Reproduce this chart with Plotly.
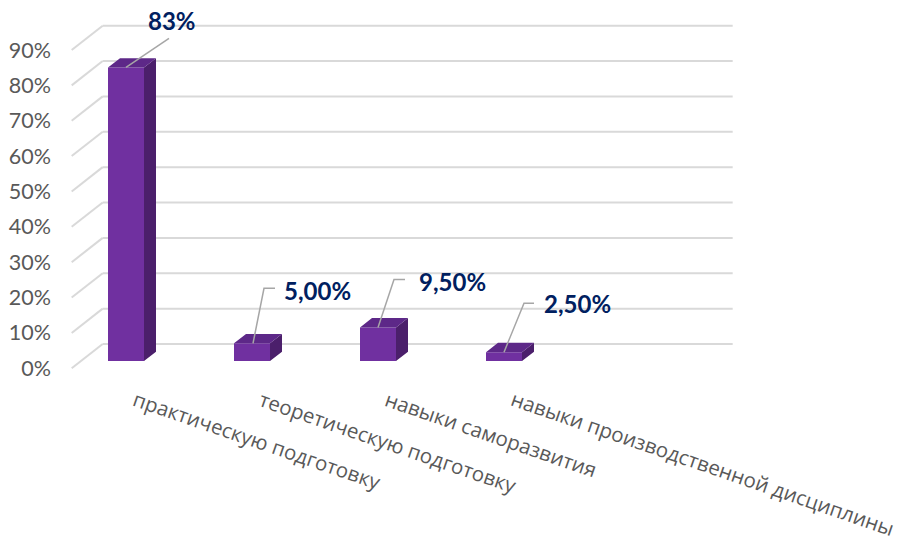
import plotly.graph_objects as go

# data
categories = ['практическую подготовку', 'теоретическую подготовку',
              'навыки саморазвития', 'навыки производственной дисциплины']
values = [83, 5, 9.5, 2.5]
value_labels = ['83%', '5,00%', '9,50%', '2,50%']
y_ticks = [0, 10, 20, 30, 40, 50, 60, 70, 80, 90]
y_tick_labels = ['%d%%' % t for t in y_ticks]
n_slots = 5  # the wall has room for five categories

W, H = 899, 547
plot_left, plot_right, plot_top, plot_bottom = 58, 760, 10, 385
l, t = plot_left, plot_top
r = W - plot_right
b = H - plot_bottom

px_x = 126.0     # pixels per category
px_y = 3.537     # pixels per percent
x0 = -(126 - plot_left) / px_x
x1 = x0 + (plot_right - plot_left) / px_x
y0 = -(plot_bottom - 368.3) / px_y
y1 = y0 + (plot_bottom - plot_top) / px_y

floor_dx, floor_dy = 31 / px_x, 24.3 / px_y     # front edge -> back wall
bar_base = 7.3 / px_y                            # bar front plane above front edge
bar_w = 36 / px_x
depth_dx, depth_dy = 12 / px_x, 9.3 / px_y       # bar depth
wall_left = -0.431

grid_color = '#d9d9d9'
front_color = '#7030a0'
side_color = '#4b1f6b'
top_color = '#5d2888'
label_color = '#002060'
text_gray = '#595959'

fig = go.Figure()

# back wall gridlines and the slanted floor lines
shapes = []
for v in y_ticks:
    shapes.append(dict(type='line', xref='x', yref='y', layer='below',
                       x0=wall_left, y0=v, x1=wall_left + floor_dx, y1=v + floor_dy,
                       line=dict(color=grid_color, width=2)))
    shapes.append(dict(type='line', xref='x', yref='y', layer='below',
                       x0=wall_left + floor_dx, y0=v + floor_dy,
                       x1=wall_left + floor_dx + n_slots, y1=v + floor_dy,
                       line=dict(color=grid_color, width=2)))

xs = list(range(len(values)))
fig.add_trace(go.Bar(x=xs, y=values, base=bar_base, width=bar_w,
                     marker=dict(color=front_color, line=dict(width=0)),
                     hoverinfo='skip'))

side_x, side_y, top_x, top_y = [], [], [], []
for x, v in zip(xs, values):
    top = bar_base + v
    xr = x + bar_w / 2
    xl = x - bar_w / 2
    side_x += [xr, xr + depth_dx, xr + depth_dx, xr, xr, None]
    side_y += [bar_base, bar_base + depth_dy, top + depth_dy, top, bar_base, None]
    top_x += [xl, xr, xr + depth_dx, xl + depth_dx, xl, None]
    top_y += [top, top, top + depth_dy, top + depth_dy, top, None]

fig.add_trace(go.Scatter(x=side_x, y=side_y, fill='toself', fillcolor=side_color,
                         mode='lines', line=dict(width=0), hoverinfo='skip'))
fig.add_trace(go.Scatter(x=top_x, y=top_y, fill='toself', fillcolor=top_color,
                         mode='lines', line=dict(width=0), hoverinfo='skip'))

# leader lines (pixel offsets from the top front edge of each bar)
leaders = [[(0, 0), (43, -29)],
           [(1, 0), (12, -55), (23, -55)],
           [(0, 0), (16, -48), (27, -48)],
           [(0, 0), (20, -49), (30, -49)]]
lx, ly = [], []
for x, v, pts in zip(xs, values, leaders):
    for dx, dy in pts:
        lx.append(x + dx / px_x)
        ly.append(bar_base + v - dy / px_y)
    lx.append(None)
    ly.append(None)
fig.add_trace(go.Scatter(x=lx, y=ly, mode='lines',
                         line=dict(color='#a6a6a6', width=1.5), hoverinfo='skip'))

annotations = []
label_shift = [(46, 47, 'center'), (30, 53, 'left'), (39, 46, 'left'), (38, 49, 'left')]
for x, v, txt, (sx, sy, anc) in zip(xs, values, value_labels, label_shift):
    annotations.append(dict(x=x, y=bar_base + v, xref='x', yref='y', text='<b>%s</b>' % txt,
                            showarrow=False, xshift=sx, yshift=sy, xanchor=anc, yanchor='middle',
                            font=dict(family='Lato', size=24, color=label_color)))

for x, cat in zip(xs, categories):
    annotations.append(dict(x=x, y=0, xref='x', yref='paper', text=cat, showarrow=False,
                            textangle=19, xanchor='left', yanchor='top', xshift=1, yshift=3,
                            font=dict(family='Open Sans', size=20.5, color=text_gray)))

fig.update_layout(
    width=W, height=H,
    margin=dict(l=l, r=r, t=t, b=b),
    plot_bgcolor='white', paper_bgcolor='white',
    showlegend=False,
    shapes=shapes,
    annotations=annotations,
    xaxis=dict(range=[x0, x1], showgrid=False, zeroline=False, showticklabels=False,
               showline=False, fixedrange=True),
    yaxis=dict(range=[y0, y1], showgrid=False, zeroline=False, showline=False,
               tickvals=y_ticks, ticktext=y_tick_labels, ticklabelstandoff=6,
               tickfont=dict(family='Lato', size=21.5, color=text_gray), fixedrange=True),
)

# drop the default 8px body margin so the figure fills the window
fig.write_html('out.html', config={'displayModeBar': False},
               post_script="document.body.style.margin='0';")
